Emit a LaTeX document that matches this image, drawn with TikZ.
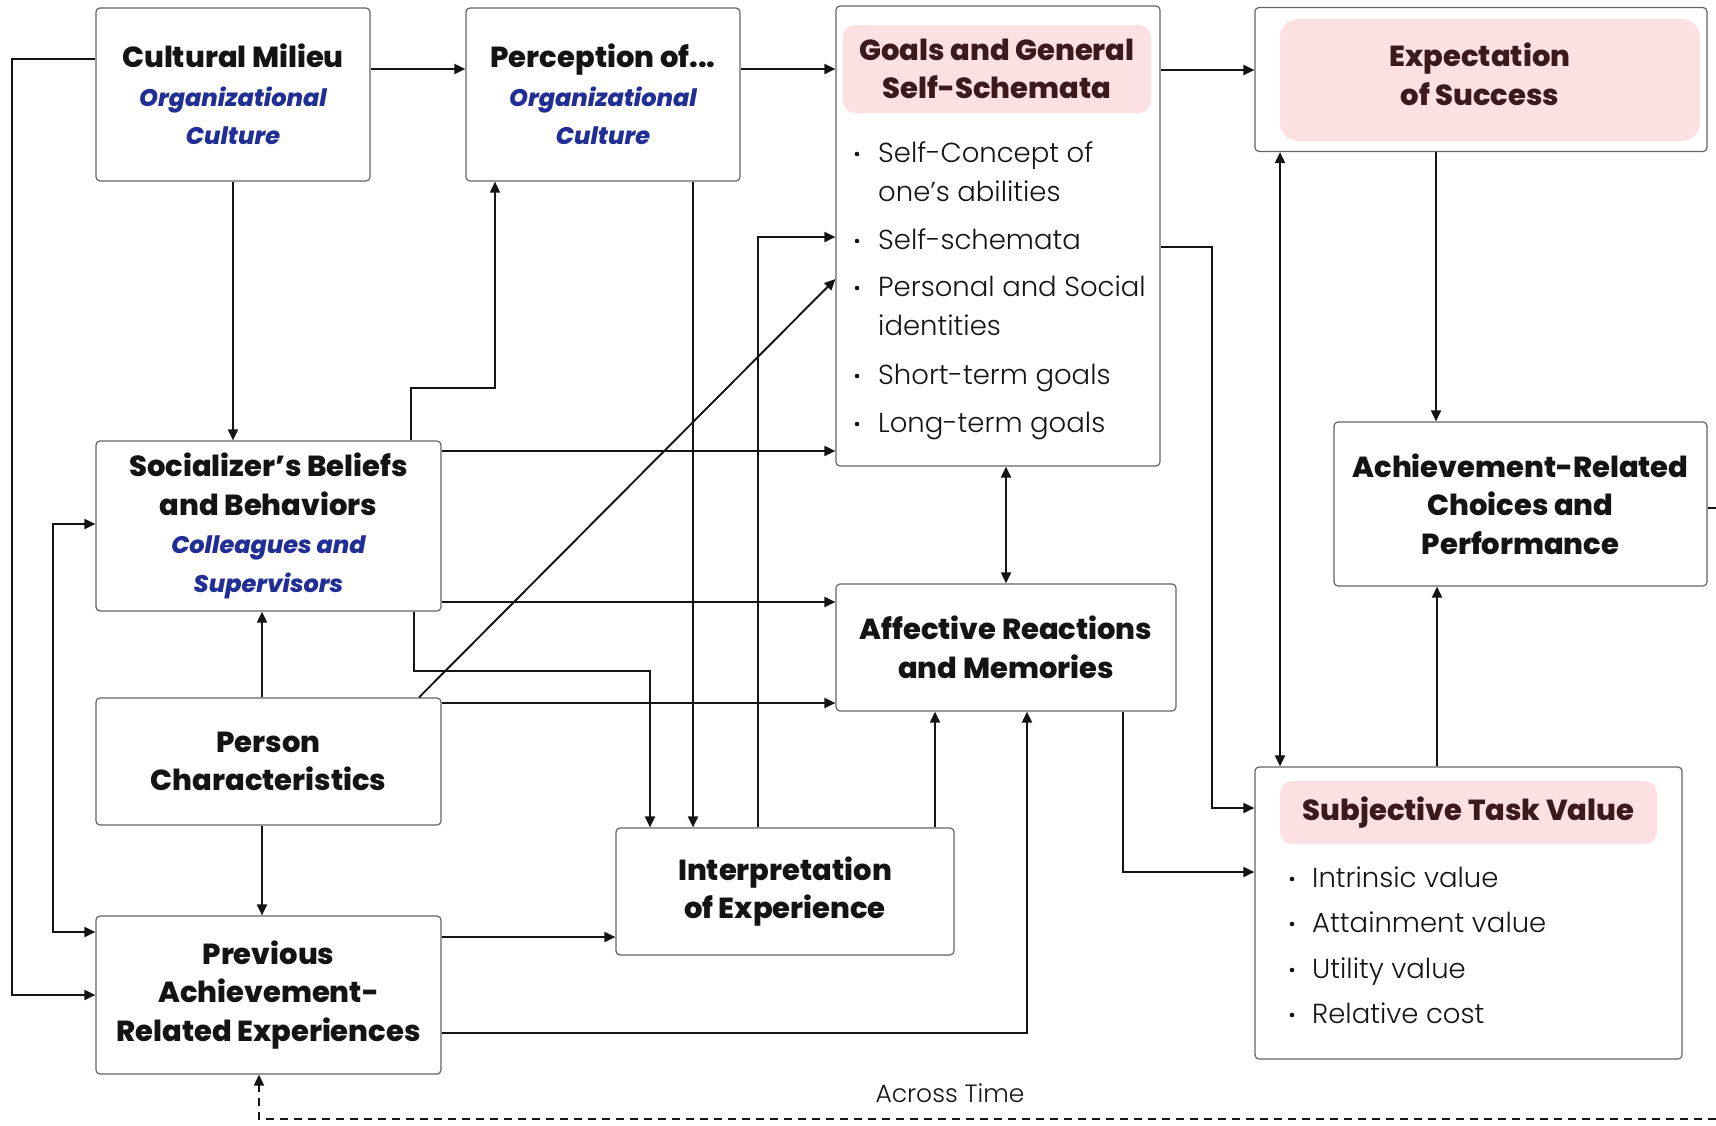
\documentclass[tikz,border=0pt]{standalone}
\usepackage{fontspec}
\setmainfont{Poppins}[BoldFont={Poppins ExtraBold}]
\newfontfamily\lightfont{Poppins Light}
\newfontfamily\semiitfont{Poppins Medium Italic}
\usetikzlibrary{arrows.meta}
\definecolor{boxgray}{RGB}{100,100,100}
\definecolor{cultblue}{RGB}{32,46,150}
\definecolor{headpink}{RGB}{253,224,226}
\definecolor{headtext}{RGB}{58,26,28}
\definecolor{inkblack}{RGB}{20,20,20}
\newcommand{\blueline}[1]{{\semiitfont\color{cultblue}\fontsize{24}{38.5}\selectfont #1}}
\tikzset{
  box/.style={draw=boxgray, line width=1.2pt, rounded corners=4pt, fill=white, align=center,
    inner sep=0pt, text=inkblack, font=\fontsize{29}{38.5}\selectfont\bfseries},
  head/.style={fill=headpink, rounded corners=12pt, align=center, inner sep=0pt,
    text=headtext, font=\fontsize{29}{38.5}\selectfont\bfseries},
  item/.style={anchor=base west, inner sep=0pt, text=inkblack, font=\lightfont\fontsize{27.5}{39}\selectfont},
  conn/.style={line width=1.9pt, draw=inkblack, ->},
  >={Triangle[length=11pt,width=10pt]}
}
\begin{document}
\begin{tikzpicture}[x=1pt, y=-1pt]
  \useasboundingbox (0,0) rectangle (1716,1125);
  \node[box, minimum width=274, minimum height=173] (cultural) at (233,94.5) {Cultural Milieu\\\blueline{Organizational}\\\blueline{Culture}};
  \node[box, minimum width=274, minimum height=173] (perception) at (603,94.5) {Perception of...\\\blueline{Organizational}\\\blueline{Culture}};
  \node[box, minimum width=324, minimum height=460] (goals) at (998,236) {};
  \node[head, minimum width=308, minimum height=88] (goalshead) at (997,69) {Goals and General\\Self-Schemata};
  \node[box, minimum width=452, minimum height=144] (expect) at (1481,79.5) {};
  \node[head, minimum width=420, minimum height=122, rounded corners=18pt] (expecthead) at (1490,80) {};
  \node[head, fill=none] (expecttext) at (1480,74.5) {Expectation\\of Success};
  \node[box, minimum width=345, minimum height=170] (socializer) at (268.5,526) {Socializer’s Beliefs\\and Behaviors\\\blueline{Colleagues and}\\\blueline{Supervisors}};
  \node[box, minimum width=345, minimum height=127] (person) at (268.5,761.5) {Person\\Characteristics};
  \node[box, minimum width=345, minimum height=158] (previous) at (268.5,995) {Previous\\Achievement-\\Related Experiences};
  \node[box, minimum width=338, minimum height=127] (interpret) at (785,891.5) {Interpretation\\of Experience};
  \node[box, minimum width=340, minimum height=127] (affective) at (1006,647.5) {Affective Reactions\\and Memories};
  \node[box, minimum width=373, minimum height=164] (choices) at (1520.5,504) {Achievement-Related\\Choices and\\Performance};
  \node[box, minimum width=427, minimum height=292] (taskvalue) at (1468.5,913) {};
  \node[head, minimum width=377, minimum height=63] (taskhead) at (1468.5,812.5) {Subjective Task Value};
  \foreach \y/\t/\b [count=\i] in {154/Self-Concept of/1, 193/one’s abilities/0, 241/Self-schemata/1,
      288/Personal and Social/1, 327/identities/0, 376/Short-term goals/1, 424/Long-term goals/1}{
    \ifnum\b=1 \fill[inkblack] (857,\y) circle (2.3pt); \fi
    \node[item] (goal\i) at (878,\y+8) {\t};
  }
  \foreach \y/\t [count=\i] in {879/Intrinsic value, 924/Attainment value, 970/Utility value, 1015/Relative cost}{
    \fill[inkblack] (1292,\y) circle (2.3pt);
    \node[item] (value\i) at (1312,\y+8) {\t};
  }
  \node[item, anchor=center, font=\lightfont\fontsize{25}{30}\selectfont] (acrosstime) at (950,1093) {Across Time};
  \coordinate (rimright) at (1716,508);
  \coordinate (rimbottom) at (1716,1119);

  \draw[conn] (cultural.west |- 0,59) -- (12,59) -- (12,995) -- (previous.west |- 0,995);
  \draw[conn] (cultural.east |- 0,69) -- (perception.west |- 0,69);
  \draw[conn] (perception.east |- 0,69) -- (goals.west |- 0,69);
  \draw[conn] (goals.east |- 0,70) -- (expect.west |- 0,70);
  \draw[conn] (cultural.south) -- (socializer.north -| cultural.south);
  \draw[conn] (socializer.north -| 411,0) -- (411,388) -- (495,388) -- (perception.south -| 495,0);
  \draw[conn] (perception.south -| 693,0) -- (interpret.north -| 693,0);
  \draw[conn] (interpret.north -| 758,0) -- (758,237) -- (goals.west |- 0,237);
  \draw[conn] (person.north -| 419,0) -- (goals.west |- 0,279);
  \draw[conn] (socializer.east |- 0,451) -- (goals.west |- 0,451);
  \draw[conn] (socializer.east |- 0,602) -- (affective.west |- 0,602);
  \draw[conn] (person.east |- 0,703) -- (affective.west |- 0,703);
  \draw[conn] (socializer.south -| 414,0) -- (414,671) -- (650,671) -- (interpret.north -| 650,0);
  \draw[conn] (person.north -| 262,0) -- (socializer.south -| 262,0);
  \draw[conn] (person.south -| 262,0) -- (previous.north -| 262,0);
  \draw[conn, <->] (socializer.west |- 0,524) -- (53,524) -- (53,932) -- (previous.west |- 0,932);
  \draw[conn] (previous.east |- 0,937) -- (interpret.west |- 0,937);
  \draw[conn] (previous.east |- 0,1033) -- (1027,1033) -- (affective.south -| 1027,0);
  \draw[conn] (interpret.north -| 935,0) -- (affective.south -| 935,0);
  \draw[conn, <->] (goals.south -| affective.north) -- (affective.north);
  \draw[conn] (goals.east |- 0,247) -- (1212,247) -- (1212,808) -- (taskvalue.west |- 0,808);
  \draw[conn] (affective.south -| 1123,0) -- (1123,872) -- (taskvalue.west |- 0,872);
  \draw[conn, <->] (expect.south -| 1280,0) -- (taskvalue.north -| 1280,0);
  \draw[conn] (expect.south -| 1436,0) -- (choices.north -| 1436,0);
  \draw[conn] (taskvalue.north -| 1437,0) -- (choices.south -| 1437,0);
  \draw[line width=1.9pt, draw=inkblack] (choices.east |- rimright) -- (rimright);
  \draw[conn, dash pattern=on 8pt off 6pt] (rimbottom) -- (259,1119) -- (previous.south -| 259,0);
\end{tikzpicture}
\end{document}
